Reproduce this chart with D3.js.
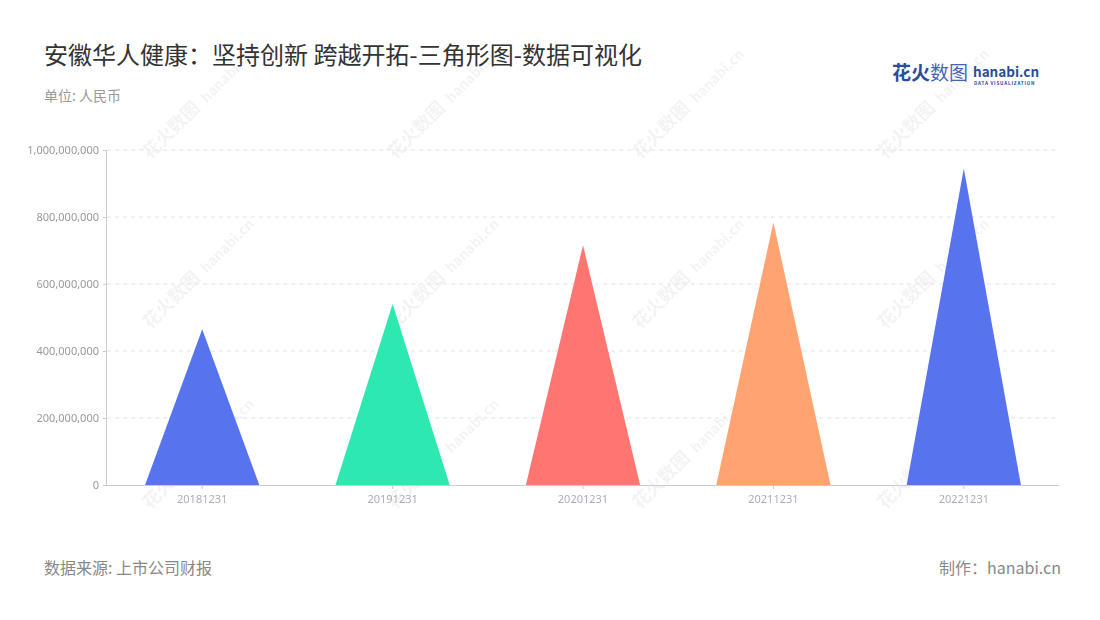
<!DOCTYPE html>
<html>
<head>
<meta charset="utf-8">
<script src="https://cdn.jsdelivr.net/npm/d3@7"></script>
<style>
  body { margin: 0; background: #fff; }
  svg { font-family: "Noto Sans CJK SC", "Noto Sans", sans-serif; }
</style>
</head>
<body>
<div id="chart"></div>
<script>
// data
var dates = ["20181231", "20191231", "20201231", "20211231", "20221231"];
var revenue = [465000000, 540000000, 716000000, 784000000, 945000000];
var colors = ["#5873ee", "#2de8b1", "#ff7571", "#ffa370", "#5873ee"];
var yTicks = [0, 200000000, 400000000, 600000000, 800000000, 1000000000];

var svgWidth = 1100;
var svgHeight = 620;
var margin = { top: 150, right: 41, bottom: 135, left: 107 };
var chart_width = svgWidth - margin.left - margin.right;
var chart_height = svgHeight - margin.top - margin.bottom;

var svg = d3.select("#chart")
    .append("svg")
    .attr("width", svgWidth)
    .attr("height", svgHeight);

// title
svg.append("text")
    .attr("x", 44).attr("y", 64)
    .attr("font-size", 24)
    .attr("fill", "#333")
    .text("安徽华人健康：坚持创新 跨越开拓-三角形图-数据可视化");

svg.append("text")
    .attr("x", 44).attr("y", 101)
    .attr("font-size", 14)
    .attr("fill", "#999")
    .text("单位: 人民币");

// logo
var logo = svg.append("g").attr("transform", "translate(892, 80)");
logo.append("text")
    .attr("font-size", 19).attr("font-weight", "bold")
    .attr("fill", "#2a4d9c")
    .text("花火");
logo.append("text")
    .attr("x", 38)
    .attr("font-size", 19)
    .attr("fill", "#3f67b8")
    .text("数图");
logo.append("text")
    .attr("x", 81).attr("y", -3)
    .attr("font-size", 13.5).attr("font-weight", "bold")
    .attr("fill", "#2a4d9c")
    .text("hanabi.cn");
logo.append("text")
    .attr("x", 82).attr("y", 5)
    .attr("font-size", 4.6).attr("font-weight", "bold")
    .attr("letter-spacing", 0.8)
    .attr("fill", "#2a4d9c")
    .text("DATA VISUALIZATION");

// watermark
var wm = svg.append("g").attr("opacity", 0.05);
[150, 395, 640, 885].forEach(function(wx) {
    [160, 330, 510].forEach(function(wy) {
        var g = wm.append("g")
            .attr("transform", `translate(${wx}, ${wy}) rotate(-45)`);
        g.append("text")
            .attr("font-size", 18).attr("font-weight", "bold")
            .attr("fill", "#000")
            .text("花火数图");
        g.append("text")
            .attr("x", 80)
            .attr("font-size", 14).attr("font-weight", "bold")
            .attr("fill", "#000")
            .text("hanabi.cn");
    });
});

var chartGroup = svg.append("g")
    .attr("transform", `translate(${margin.left}, ${margin.top})`);

// scales
var xScale = d3.scaleBand()
    .domain(dates)
    .range([0, chart_width]);

var yScale = d3.scaleLinear()
    .domain([0, 1000000000])
    .range([chart_height, 0]);

// grid
chartGroup.append("g")
    .selectAll("line")
    .data(yTicks.slice(1))
    .enter()
    .append("line")
    .attr("x1", 0).attr("x2", chart_width)
    .attr("y1", d => yScale(d)).attr("y2", d => yScale(d))
    .attr("stroke", "#e3e3e3")
    .attr("stroke-dasharray", "4,4");

// triangles
var halfBase = xScale.bandwidth() * 0.3;
chartGroup.append("g")
    .selectAll("path")
    .data(dates)
    .enter()
    .append("path")
    .attr("d", function(d, i) {
        var cx = xScale(d) + xScale.bandwidth() / 2;
        return `M${cx - halfBase},${yScale(0)} L${cx},${yScale(revenue[i])} L${cx + halfBase},${yScale(0)} Z`;
    })
    .attr("fill", (d, i) => colors[i]);

// axes
var leftAxis = d3.axisLeft(yScale)
    .tickValues(yTicks)
    .tickSize(4)
    .tickPadding(4)
    .tickFormat(d3.format(","));

var yAxis = chartGroup.append("g").call(leftAxis);
yAxis.select(".domain").attr("stroke", "#ccc").attr("d", `M-0.5,0V${chart_height}`);
yAxis.selectAll(".tick line").attr("stroke", "#ccc");
yAxis.selectAll("text")
    .attr("fill", "#999")
    .attr("font-size", 11)
    .attr("font-family", "Noto Sans, sans-serif");

var bottomAxis = d3.axisBottom(xScale)
    .tickSize(4)
    .tickPadding(6);

var xAxis = chartGroup.append("g")
    .attr("transform", `translate(0, ${chart_height})`)
    .call(bottomAxis);
xAxis.select(".domain").attr("stroke", "#ccc").attr("d", `M-4,0.5H${chart_width}`);
xAxis.selectAll(".tick line").attr("stroke", "#ccc");
xAxis.selectAll("text")
    .attr("fill", "#a9aebb")
    .attr("font-size", 11)
    .attr("font-family", "Noto Sans, sans-serif");

// footer
svg.append("text")
    .attr("x", 44).attr("y", 574)
    .attr("font-size", 16)
    .attr("fill", "#888")
    .text("数据来源: 上市公司财报");

svg.append("text")
    .attr("x", 1061).attr("y", 574)
    .attr("text-anchor", "end")
    .attr("font-size", 16)
    .attr("fill", "#888")
    .text("制作：hanabi.cn");
</script>
</body>
</html>
